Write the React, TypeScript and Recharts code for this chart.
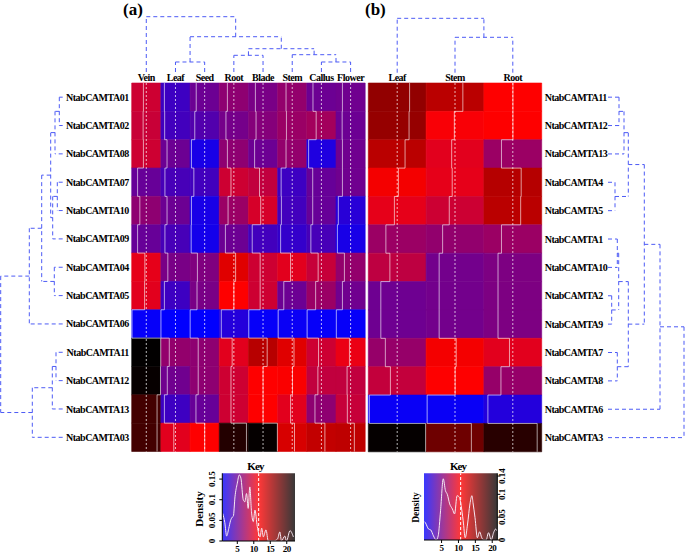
/* ── CAMTA expression heatmaps (a) 8 tissues, (b) 3 tissues ── */

import React from "react";
import { ComposedChart, XAxis, YAxis, ReferenceArea, ReferenceLine, Line, Scatter } from "recharts";

const W = 685;
const H = 553;
const SERIF = "'Liberation Serif', 'Times New Roman', serif";

/* ---- panel (a) ---- */
const tissuesA = ["Vein", "Leaf", "Seed", "Root", "Blade", "Stem", "Callus", "Flower"];
const genesA = [
  "NtabCAMTA01", "NtabCAMTA02", "NtabCAMTA08", "NtabCAMTA07", "NtabCAMTA10", "NtabCAMTA09", "NtabCAMTA04",
  "NtabCAMTA05", "NtabCAMTA06", "NtabCAMTA11", "NtabCAMTA12", "NtabCAMTA13", "NtabCAMTA03",
];
const exprA = [
  [9.3, 3.1, 5.1, 6.6, 5.7, 6.8, 5.1, 5.3],
  [9.1, 3.3, 4.0, 5.5, 6.2, 7.1, 7.5, 5.1],
  [9.3, 5.1, 1.5, 6.6, 5.1, 6.8, 1.8, 5.3],
  [4.9, 3.5, 3.3, 9.3, 8.8, 3.1, 4.9, 5.3],
  [6.6, 5.1, 1.5, 7.1, 9.7, 3.3, 4.9, 2.2],
  [4.9, 3.5, 1.3, 5.1, 3.3, 2.7, 3.5, 1.5],
  [10.4, 5.7, 6.0, 12.8, 9.3, 10.2, 9.0, 6.8],
  [10.2, 3.1, 5.7, 11.5, 9.3, 5.1, 7.1, 5.3],
  [0.7, 0.5, 0.5, 2.0, 0.7, 0.9, 0.7, 0.7],
  [22.4, 6.8, 6.6, 10.2, 14.6, 12.8, 9.3, 10.6],
  [22.2, 5.3, 6.6, 9.3, 11.5, 11.7, 8.8, 8.8],
  [19.6, 3.1, 4.9, 9.3, 11.5, 10.2, 6.6, 9.0],
  [19.6, 10.2, 11.5, 21.0, 22.3, 13.2, 14.1, 14.3],
];
const rangeA: [number, number] = [0.45, 22.5];

// hclust style merges: negative = leaf (1-based), positive = earlier merge, then height
const tissueTreeA = [
  [-2, -3, 1.81],
  [-7, -8, 1.81],
  [-4, -5, 3.02],
  [-6, 2, 3.13],
  [3, 4, 4.21],
  [1, 5, 6.38],
  [-1, 6, 10],
];
const geneTreeA = [
  [-1, -2, 3.4],
  [1, -3, 7.7],
  [-4, -5, 5.4],
  [3, -6, 10],
  [2, 4, 12],
  [-7, -8, 8.4],
  [5, 6, 21],
  [7, -9, 33.4],
  [-10, -11, 6.7],
  [9, -12, 10.4],
  [10, -13, 30.4],
  [8, 11, 62],
];

/* ---- panel (b) ---- */
const tissuesB = ["Leaf", "Stem", "Root"];
const genesB = [
  "NtabCAMTA11", "NtabCAMTA12", "NtabCAMTA13", "NtabCAMTA4", "NtabCAMTA5", "NtabCAMTA1", "NtabCAMTA10",
  "NtabCAMTA2", "NtabCAMTA9", "NtabCAMTA7", "NtabCAMTA8", "NtabCAMTA6", "NtabCAMTA3",
];
const exprB = [
  [15.3, 13.6, 10.7],
  [15.1, 10.4, 10.7],
  [13.6, 9.4, 6.4],
  [11.1, 9.6, 13.8],
  [9.6, 8.5, 13.6],
  [6.4, 6.0, 6.4],
  [7.9, 4.7, 5.1],
  [4.5, 4.7, 5.1],
  [4.5, 4.7, 5.1],
  [6.2, 11.1, 9.4],
  [8.1, 10.7, 6.2],
  [0.2, 0.2, 1.3],
  [21.3, 16.8, 19.8],
];
const rangeB: [number, number] = [-0.2, 21.5];

const tissueTreeB = [
  [-2, -3, 6.32],
  [-1, 1, 9.71],
];
const geneTreeB = [
  [-1, -2, 11],
  [1, -3, 16],
  [-4, -5, 7],
  [2, 3, 20.3],
  [-6, -7, 9.3],
  [-8, -9, 3.7],
  [5, 6, 10.7],
  [-10, -11, 9.3],
  [7, 8, 20.3],
  [4, 9, 36.3],
  [10, -12, 52],
  [11, -13, 76],
];

/* ---- colour keys (density of values) ---- */
const keyValsA = [0.56, 1.2, 1.77, 2.4, 2.98, 3.5, 3.8, 4.3, 5.0, 5.6, 6.1, 6.8, 7.3, 7.8, 8.3, 8.8, 9.3, 9.85, 10.35, 11.06, 11.9, 12.4, 12.9, 13.7, 14.4, 15.9, 17.2, 17.9, 18.4, 19.4, 19.9, 21, 22];
const keyDensA = [0.067, 0.045, 0.012, 0.03, 0.05, 0.058, 0.06, 0.107, 0.14, 0.16, 0.152, 0.1, 0.095, 0.115, 0.079, 0.131, 0.071, 0.047, 0.075, 0.035, 0.01, 0.031, 0.01, 0.027, 0, 0, 0.005, 0.022, 0, 0.012, 0, 0.025, 0.01];
const keyValsB = [0, 0.2, 1.15, 1.8, 2.6, 3.4, 4.0, 4.7, 5.5, 6.15, 6.7, 7.4, 8.2, 8.85, 9.6, 10.3, 10.8, 11.4, 12.0, 12.7, 13.4, 14.0, 14.3, 14.9, 15.6, 16.25, 16.9, 17.5, 18.2, 18.9, 19.7, 20.4, 21.0, 21.4];
const keyDensB = [0.04, 0.038, 0.024, 0.022, 0.009, 0, 0.009, 0.064, 0.134, 0.108, 0.1, 0.079, 0.068, 0.057, 0.097, 0.093, 0.075, 0.042, 0.005, 0.035, 0.079, 0.097, 0.082, 0.049, 0.005, 0.018, 0.005, 0, 0, 0.016, 0, 0.016, 0.024, 0.02];
const keyTicksX = [5, 10, 15, 20];
const keyTicksYA = [0, 0.05, 0.1, 0.15];
const keyTicksYB = [0, 0.05, 0.1, 0.14];

/* ---- layout (plot boxes in px) ---- */
const heatBoxA = { l: 131.7, r: 365.2, t: 83, b: 451.5 };
const heatBoxB = { l: 368.3, r: 541.7, t: 83, b: 451.8 };
const colDenA = { t: 16.7, b: 72 };
const colDenB = { t: 16.7, b: 72.7 };
const rowDenA = { l: 0.7, r: 62.7 };
const rowDenB = { l: 608, r: 684 };
const keyBoxA = { l: 222.3, r: 295, t: 473.3, b: 541 };
const keyBoxB = { l: 424, r: 497.3, t: 473.3, b: 540 };

const DENDRO = "#4d5bf5";
const abs: React.CSSProperties = { position: "absolute", left: 0, top: 0 };
const noShape = () => <g />;

function frac(v: number, range: [number, number]) {
  return Math.min(1, Math.max(0, (v - range[0]) / (range[1] - range[0])));
}

// blue -> red -> black
function heatColor(v: number, range: [number, number]) {
  const f = frac(v, range);
  if (f < 0.5) {
    const t = f * 2;
    return `rgb(${Math.round(255 * t)},0,${Math.round(255 * (1 - t))})`;
  }
  const s = (f - 0.5) * 2;
  return `rgb(${Math.round(255 * (1 - s))},0,0)`;
}

// returns segments as [pos1, h1, pos2, h2]
function dendroSegs(tree: number[][]) {
  const pos: number[] = [];
  const hts: number[] = [];
  const get = (id: number) => (id < 0 ? [-id - 1 + 0.5, 0] : [pos[id - 1], hts[id - 1]]);
  const segs: number[][] = [];
  tree.forEach(([a, b, h], i) => {
    const [pa, ha] = get(a);
    const [pb, hb] = get(b);
    segs.push([pa, ha, pa, h], [pb, hb, pb, h], [pa, h, pb, h]);
    pos[i] = (pa + pb) / 2;
    hts[i] = h;
  });
  return segs;
}

const labelStyle = { fontSize: 10, fontWeight: 700, fill: "#000", fontFamily: SERIF, letterSpacing: -0.5 };

function Heatmap({ tissues, genes, expr, range, box, side }: any) {
  const nc = tissues.length;
  const nr = genes.length;
  const yw = 72;
  const xh = 14;
  const margin = {
    top: box.t - xh,
    bottom: H - box.b,
    left: side === "left" ? box.l - yw : box.l,
    right: side === "right" ? W - box.r - yw : W - box.r,
  };
  const anchors = [{ x: 0, y: 0 }, { x: nc, y: nr }];

  const cells: any[] = [];
  const traces: any[] = [];
  for (let r = 0; r < nr; r++) {
    for (let c = 0; c < nc; c++) {
      const col = heatColor(expr[r][c], range);
      cells.push(
        <ReferenceArea key={`c${r}-${c}`} x1={c} x2={c + 1} y1={r} y2={r + 1} fill={col} fillOpacity={1}
          stroke={col} strokeWidth={0.6} ifOverflow="visible" />
      );
    }
  }
  for (let c = 0; c < nc; c++) {
    for (let r = 0; r < nr; r++) {
      const x = c + frac(expr[r][c], range);
      traces.push(
        <ReferenceLine key={`v${r}-${c}`} segment={[{ x, y: r }, { x, y: r + 1 }]} stroke="#ffffff"
          strokeOpacity={0.6} strokeWidth={1} ifOverflow="visible" />
      );
      if (r > 0) {
        const xp = c + frac(expr[r - 1][c], range);
        traces.push(
          <ReferenceLine key={`h${r}-${c}`} segment={[{ x: xp, y: r }, { x, y: r }]} stroke="#ffffff"
            strokeOpacity={0.6} strokeWidth={1} ifOverflow="visible" />
        );
      }
    }
  }

  return (
    <div style={abs}>
      <ComposedChart width={W} height={H} margin={margin}>
        <XAxis type="number" dataKey="x" orientation="top" domain={[0, nc]} ticks={tissues.map((_: any, i: number) => i + 0.5)}
          interval={0} tickFormatter={(v: number) => tissues[Math.floor(v)]} axisLine={false} tickLine={false}
          tickSize={0} tickMargin={2} height={xh} tick={labelStyle} allowDataOverflow />
        <YAxis type="number" dataKey="y" orientation={side} domain={[0, nr]} reversed ticks={genes.map((_: any, i: number) => i + 0.5)}
          interval={0} tickFormatter={(v: number) => genes[Math.floor(v)]} axisLine={false} tickLine={false}
          tickSize={0} tickMargin={3} width={yw} tick={labelStyle} allowDataOverflow />
        <Scatter data={anchors} dataKey="y" shape={noShape} isAnimationActive={false} legendType="none" />
        {cells}
        {tissues.map((_: any, c: number) => (
          <ReferenceLine key={`m${c}`} x={c + 0.5} stroke="#ffffff" strokeOpacity={0.7} strokeDasharray="2 2" ifOverflow="visible" />
        ))}
        {traces}
      </ComposedChart>
    </div>
  );
}

function ColDendro({ tree, n, box, den }: any) {
  const segs = dendroSegs(tree);
  const anchors = [{ x: 0, y: 0 }, { x: n, y: 10 }];
  return (
    <div style={abs}>
      <ComposedChart width={W} height={H}
        margin={{ left: box.l, right: W - box.r, top: den.t, bottom: H - den.b }}>
        <XAxis type="number" dataKey="x" domain={[0, n]} hide allowDataOverflow />
        <YAxis type="number" dataKey="y" domain={[0, 10]} hide allowDataOverflow />
        <Scatter data={anchors} dataKey="y" shape={noShape} isAnimationActive={false} legendType="none" />
        {segs.map((s, i) => (
          <ReferenceLine key={i} segment={[{ x: s[0], y: s[1] }, { x: s[2], y: s[3] }]} stroke={DENDRO}
            strokeDasharray="4 3" strokeWidth={1} ifOverflow="visible" />
        ))}
      </ComposedChart>
    </div>
  );
}

function RowDendro({ tree, n, box, den, hMax, flip }: any) {
  const segs = dendroSegs(tree);
  const anchors = [{ x: 0, y: 0 }, { x: hMax, y: n }];
  return (
    <div style={abs}>
      <ComposedChart width={W} height={H}
        margin={{ left: den.l, right: W - den.r, top: box.t, bottom: H - box.b }}>
        <XAxis type="number" dataKey="x" domain={[0, hMax]} reversed={flip} hide allowDataOverflow />
        <YAxis type="number" dataKey="y" domain={[0, n]} reversed hide allowDataOverflow />
        <Scatter data={anchors} dataKey="y" shape={noShape} isAnimationActive={false} legendType="none" />
        {segs.map((s, i) => (
          <ReferenceLine key={i} segment={[{ x: s[1], y: s[0] }, { x: s[3], y: s[2] }]} stroke={DENDRO}
            strokeDasharray="4 3" strokeWidth={1} ifOverflow="visible" />
        ))}
      </ComposedChart>
    </div>
  );
}

const rotTick = (side: "left" | "right") => (p: any) => {
  const x = side === "left" ? p.x - 2 : p.x + 2.7;
  return (
    <text x={x} y={p.y} transform={`rotate(-90 ${x} ${p.y})`} textAnchor="middle" fontSize={9}
      fontWeight={700} fontFamily={SERIF} fill="#000">
      {p.payload.value}
    </text>
  );
};

function ColourKey({ vals, dens, range, yTicks, yMax, box, side, gradId }: any) {
  const data = vals.map((v: number, i: number) => ({ v, d: dens[i] }));
  const yw = 14;
  const xh = 10;
  return (
    <div style={abs}>
      <ComposedChart width={W} height={H} data={data}
        margin={{
          left: side === "left" ? box.l - yw : box.l,
          right: side === "right" ? W - box.r - yw : W - box.r,
          top: box.t,
          bottom: H - box.b - xh,
        }}>
        <defs>
          <linearGradient id={gradId} x1="0" x2="1" y1="0" y2="0">
            <stop offset="0" stopColor="#0000ff" />
            <stop offset="0.5" stopColor="#ff0000" />
            <stop offset="1" stopColor="#000000" />
          </linearGradient>
        </defs>
        <XAxis type="number" dataKey="v" domain={range} ticks={keyTicksX} interval={0} height={xh}
          tickSize={3} tickMargin={2} axisLine={{ stroke: "#000" }} tickLine={{ stroke: "#000" }}
          tick={{ fontSize: 9, fontWeight: 700, fill: "#000", fontFamily: SERIF, letterSpacing: -0.4 }} allowDataOverflow />
        <YAxis type="number" orientation={side} domain={[0, yMax]} ticks={yTicks} interval={0} width={yw}
          tickSize={3} tickMargin={2} axisLine={{ stroke: "#000" }} tickLine={{ stroke: "#000" }}
          tick={rotTick(side)} allowDataOverflow />
        <ReferenceArea x1={range[0]} x2={range[1]} y1={0} y2={yMax} fill={`url(#${gradId})`} fillOpacity={0.78}
          ifOverflow="visible" />
        <ReferenceLine x={(range[0] + range[1]) / 2} stroke="#ffffff" strokeDasharray="3 2" strokeWidth={1} />
        <Line dataKey="d" type="monotone" stroke="#f6e8f2" strokeWidth={1} dot={false} isAnimationActive={false} />
      </ComposedChart>
    </div>
  );
}

export default function App() {
  const t = { fontFamily: SERIF, fontWeight: 700, fill: "#000" } as const;
  return (
    <div style={{ position: "absolute", left: 0, top: 0, width: W, height: H, background: "#fff", overflow: "hidden" }}>
      <ColDendro tree={tissueTreeA} n={tissuesA.length} box={heatBoxA} den={colDenA} />
      <ColDendro tree={tissueTreeB} n={tissuesB.length} box={heatBoxB} den={colDenB} />
      <RowDendro tree={geneTreeA} n={genesA.length} box={heatBoxA} den={rowDenA} hMax={62} flip />
      <RowDendro tree={geneTreeB} n={genesB.length} box={heatBoxB} den={rowDenB} hMax={76} flip={false} />
      <Heatmap tissues={tissuesA} genes={genesA} expr={exprA} range={rangeA} box={heatBoxA} side="left" />
      <Heatmap tissues={tissuesB} genes={genesB} expr={exprB} range={rangeB} box={heatBoxB} side="right" />
      <ColourKey vals={keyValsA} dens={keyDensA} range={rangeA} yTicks={keyTicksYA} yMax={0.164} box={keyBoxA}
        side="left" gradId="keyGradA" />
      <ColourKey vals={keyValsB} dens={keyDensB} range={rangeB} yTicks={keyTicksYB} yMax={0.146} box={keyBoxB}
        side="right" gradId="keyGradB" />

      <svg width={W} height={H} style={{ ...abs, pointerEvents: "none" }}>
        <text x={123} y={15} fontSize={17} {...t}>(a)</text>
        <text x={365} y={15} fontSize={17} {...t}>(b)</text>
        <text x={255.5} y={470} fontSize={11} textAnchor="middle" letterSpacing={-0.8} {...t}>Key</text>
        <text x={458} y={470} fontSize={11} textAnchor="middle" letterSpacing={-1} {...t}>Key</text>
        <text x={202.5} y={509} fontSize={11} textAnchor="middle" transform="rotate(-90 202.5 509)" {...t}>Density</text>
        <text x={418.5} y={507.5} fontSize={9.5} textAnchor="middle" transform="rotate(-90 418.5 507.5)" {...t}>Density</text>
      </svg>
    </div>
  );
}
